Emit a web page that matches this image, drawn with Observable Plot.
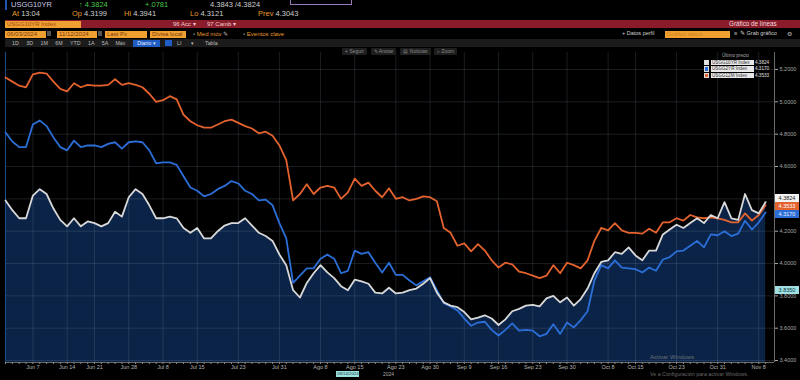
<!DOCTYPE html>
<html><head><meta charset="utf-8">
<script src="https://cdn.jsdelivr.net/npm/d3@7"></script>
<script src="https://cdn.jsdelivr.net/npm/@observablehq/plot@0.6"></script>
<style>
body{margin:0;background:#000;width:800px;height:380px;overflow:hidden;font-family:"Liberation Sans",Arial,sans-serif;position:relative}
.a{position:absolute;white-space:nowrap;line-height:1}
.r1{top:1px;font-size:7.5px}
.r2{top:10px;font-size:7.5px;color:#cfcfcf}
.o{color:#e69a2e}
.box{position:absolute;background:#f0a030;color:#7a3a10;font-size:6px;line-height:7px;height:7px;padding-left:2px;box-sizing:border-box}
.btn{position:absolute;top:48px;height:7px;background:#1e1e1e;color:#8a8a8a;font-size:5px;line-height:7px;text-align:center;border-radius:1px}
.tag{position:absolute;left:775px;width:24px;height:8px;font-size:5.5px;line-height:8px;text-align:center}
.lg{position:absolute;font-size:4.6px;line-height:5.5px;height:5.5px}
</style></head><body>
<!-- header row 1 -->
<div class="a" style="left:5px;top:0;width:2px;height:10px;background:#1f55b0"></div>
<div class="a r1" style="left:11px;color:#c8c8e6">USGG10YR</div>
<div class="a r1" style="left:79px;color:#4cc44c">↑ 4.3824</div>
<div class="a r1" style="left:145px;color:#4cc44c">+.0781</div>
<div class="a r1" style="left:210px;color:#cfcfcf">4.3843 /4.3824</div>
<div class="a" style="left:290px;top:-3px;width:60px;height:6px;border:1px solid #9a7ab8"></div>
<!-- header row 2 -->
<div class="a r2" style="left:12px"><span class="o">At</span> 13:04</div>
<div class="a r2" style="left:72px"><span class="o">Op</span> 4.3199</div>
<div class="a r2" style="left:124px"><span class="o">Hi</span> 4.3941</div>
<div class="a r2" style="left:190px"><span class="o">Lo</span> 4.3121</div>
<div class="a r2" style="left:258px"><span class="o">Prev</span> 4.3043</div>
<!-- red bar -->
<div class="a" style="left:5px;top:20px;width:795px;height:8px;background:#8a1b2b"></div>
<div class="box" style="left:5px;top:20.5px;width:76px;color:#a54a18">USGG10YR Index</div>
<div class="a" style="left:173px;top:21px;font-size:6px;color:#f0d0d0">96 Acc ▾</div>
<div class="a" style="left:207px;top:21px;font-size:6px;color:#f0d0d0">97 Camb ▾</div>
<div class="a" style="left:729px;top:21px;font-size:6.3px;color:#f4dede">Gráfico de líneas</div>
<!-- row 4 -->
<div class="box" style="left:5px;top:30.5px;width:41px">06/03/2024</div>
<div class="a" style="left:47px;top:31px;width:4px;height:5px;background:#555"></div>
<div class="box" style="left:57px;top:30.5px;width:40px">11/12/2024</div>
<div class="a" style="left:98px;top:31px;width:4px;height:5px;background:#555"></div>
<div class="box" style="left:105px;top:30.5px;width:42px">Last Px</div>
<div class="box" style="left:150px;top:30.5px;width:36px">Divisa local</div>
<div class="a" style="left:193px;top:31px;font-size:6px;color:#e69a2e"><span style="color:#777">▪</span> Med móv <span style="color:#bbb">✎</span></div>
<div class="a" style="left:243px;top:31px;font-size:6px;color:#e69a2e"><span style="color:#777">▪</span> Eventos clave</div>
<div class="a" style="left:622px;top:31px;font-size:5.5px;color:#cfcfcf">+ Datos perfil</div>
<div class="box" style="left:665px;top:30.5px;width:65px;color:#d08020">Gráfico datos</div>
<div class="a" style="left:734px;top:31px;font-size:5.5px;color:#bbb">≡</div>
<div class="a" style="left:740px;top:31px;font-size:5.5px;color:#cfcfcf">✎ Grab gráfico</div>
<div class="a" style="left:787px;top:31px;font-size:6px;color:#bbb">⚙</div>
<!-- row 5 -->
<div class="a" style="left:5px;top:39px;width:795px;height:8px;background:#1b1b1b"></div>
<div class="a" style="left:12px;top:40.5px;font-size:5.3px;color:#bdbdbd;word-spacing:6px">1D 3D 1M 6M YTD 1A 5A Máx</div>
<div class="a" style="left:133px;top:39.5px;width:27px;height:7px;background:#1f5cc4;color:#e6eeff;font-size:5.3px;line-height:7px;text-align:center">Diario ▾</div>
<div class="a" style="left:165px;top:40px;width:7px;height:6px;background:#1f5cc4"></div>
<div class="a" style="left:177px;top:40.5px;font-size:5.3px;color:#bdbdbd">LI</div>
<div class="a" style="left:191px;top:40.5px;font-size:5.3px;color:#bdbdbd">▾</div>
<div class="a" style="left:205px;top:40.5px;font-size:5.3px;color:#bdbdbd">Tabla</div>

<div id="chart" style="position:absolute;left:0;top:47px"></div>

<div class="btn" style="left:342px;width:25px">⌖ Seguir</div>
<div class="btn" style="left:371px;width:25px">✎ Anotar</div>
<div class="btn" style="left:400px;width:31px">▤ Noticias</div>
<div class="btn" style="left:434px;width:23px">⌕ Zoom</div>

<div id="legend"></div>
<div id="tags"></div>

<div class="a" style="left:383px;top:372px;font-size:5px;color:#a8a8a8">2024</div>
<div class="a" style="left:650px;top:354px;font-size:6px;color:#8a8a8a;opacity:.75">Activar Windows</div>
<div class="a" style="left:650px;top:372px;font-size:5.3px;color:#8a8a8a;opacity:.75">Ve a Configuración para activar Windows.</div>

<script>
const N = 112; // trading days Jun 3 – Nov 12, 2024
const tickIdx = [4,9,13,18,23,28,34,40,46,51,57,62,67,72,77,82,88,92,98,104,110];
const tickLabels = ["Jun 7","Jun 14","Jun 21","Jun 28","Jul 8","Jul 15","Jul 23","Jul 31","Ago 8","Ago 15","Ago 23","Ago 30","Sep 9","Sep 16","Sep 23","Sep 30","Oct 8","Oct 15","Oct 23","Oct 31","Nov 8"];
const yTicks = [3.4,3.6,3.8,4.0,4.2,4.4,4.6,4.8,5.0,5.2];
const seriesNames = ["USGG10YR Index","USGG2YR Index","USGG12M Index"];
const seriesColors = ["#e4e4e4","#2b6ed8","#e3622e"];
const lastValues = [4.3824, 4.3170, 4.3533];

const us10y = [4.39,4.33,4.28,4.28,4.42,4.46,4.43,4.34,4.27,4.23,
4.28,4.23,4.26,4.25,4.23,4.25,4.32,4.29,4.41,4.46,
4.43,4.36,4.28,4.28,4.29,4.28,4.22,4.19,4.22,4.155,
4.155,4.20,4.235,4.25,4.25,4.28,4.235,4.19,4.17,4.14,
4.056,3.99,3.835,3.79,3.88,3.94,3.99,3.945,3.91,3.86,
3.835,3.90,3.89,3.875,3.82,3.815,3.85,3.815,3.82,3.835,
3.845,3.875,3.91,3.82,3.76,3.74,3.73,3.70,3.655,3.665,
3.68,3.66,3.62,3.655,3.705,3.72,3.74,3.745,3.735,3.785,
3.80,3.76,3.79,3.74,3.78,3.845,3.94,4.01,4.02,4.07,
4.06,4.10,4.05,4.02,4.08,4.08,4.18,4.21,4.24,4.22,
4.25,4.28,4.25,4.30,4.28,4.38,4.28,4.27,4.43,4.33,
4.31,4.38];
const us2y = [4.81,4.755,4.72,4.72,4.86,4.885,4.85,4.78,4.72,4.70,
4.76,4.72,4.73,4.73,4.72,4.74,4.75,4.71,4.75,4.755,
4.75,4.70,4.62,4.625,4.625,4.61,4.54,4.47,4.45,4.415,
4.43,4.46,4.48,4.51,4.495,4.45,4.43,4.39,4.395,4.36,
4.25,4.155,3.88,3.925,3.97,3.97,4.03,4.055,4.03,3.94,
3.955,4.08,4.06,4.07,4.005,3.945,4.005,3.93,3.93,3.895,
3.865,3.89,3.915,3.835,3.755,3.735,3.71,3.66,3.615,3.635,
3.64,3.59,3.555,3.59,3.63,3.585,3.59,3.585,3.55,3.565,
3.625,3.565,3.635,3.605,3.65,3.705,3.895,3.99,3.97,4.02,
3.975,3.97,3.965,3.945,3.975,3.955,4.025,4.04,4.075,4.08,
4.11,4.14,4.10,4.18,4.175,4.20,4.17,4.185,4.265,4.21,
4.255,4.315];
const us1y = [5.15,5.125,5.10,5.09,5.17,5.18,5.175,5.125,5.08,5.065,
5.115,5.09,5.105,5.10,5.10,5.105,5.14,5.105,5.115,5.105,
5.09,5.05,5.00,5.01,5.035,5.015,4.92,4.88,4.855,4.84,
4.84,4.86,4.88,4.89,4.87,4.85,4.835,4.805,4.815,4.79,
4.73,4.64,4.39,4.43,4.49,4.43,4.47,4.48,4.47,4.40,
4.44,4.525,4.48,4.50,4.45,4.41,4.465,4.40,4.41,4.39,
4.40,4.415,4.41,4.385,4.22,4.19,4.11,4.125,4.075,4.12,
4.08,4.02,3.975,4.005,3.995,3.95,3.94,3.925,3.91,3.925,
3.99,3.94,4.005,3.99,3.97,4.02,4.14,4.22,4.205,4.25,
4.205,4.19,4.19,4.185,4.215,4.19,4.255,4.255,4.28,4.265,
4.30,4.285,4.28,4.285,4.28,4.27,4.255,4.255,4.31,4.265,
4.30,4.36];

const crossIdx = 50;
const crossDate = "08/14/2024";

const yBase = 3.388, xMax = 112.3;
const data = us10y.map((w, i) => ({i, w, b: us2y[i], o: us1y[i]}));
const lbl = new Map(tickIdx.map((d, k) => [d, tickLabels[k]]));

const chart = Plot.plot({
  width: 800, height: 333,
  marginLeft: 5, marginRight: 26, marginTop: 5, marginBottom: 18,
  style: {background: "#000", color: "#aaa", fontFamily: "Liberation Sans, Arial, sans-serif", overflow: "visible"},
  x: {domain: [0, xMax]},
  y: {domain: [yBase, 5.305]},
  marks: [
    Plot.areaY(data, {x: "i", y1: () => yBase, y2: "w", fill: "#0b2346"}),
    Plot.ruleY(yTicks, {stroke: "#9aaabe", strokeOpacity: 0.17}),
    Plot.ruleX(tickIdx, {stroke: "#9aaabe", strokeOpacity: 0.17}),
    Plot.ruleX([0], {stroke: "#1e4d8c"}),
    Plot.lineY(data, {x: "i", y: "o", stroke: seriesColors[2], strokeWidth: 1.8}),
    Plot.lineY(data, {x: "i", y: "b", stroke: seriesColors[1], strokeWidth: 1.8}),
    Plot.lineY(data, {x: "i", y: "w", stroke: "#d8d8d8", strokeWidth: 1.8}),
    Plot.ruleX([xMax], {stroke: "#6a6a6a"}),
    Plot.ruleY([yBase], {stroke: "#6a6a6a"}),
    Plot.axisY({anchor: "right", ticks: yTicks, tickFormat: d3.format(".4f"), tickSize: 3, tickPadding: 2, fontSize: 5.5, color: "#a8a8a8", label: null}),
    Plot.axisX({ticks: d3.range(N), tickSize: 2, tickFormat: () => "", color: "#8a8a8a", label: null}),
    Plot.axisX({ticks: tickIdx, tickSize: 0, tickPadding: 3, tickFormat: d => lbl.get(d), fontSize: 5.5, color: "#b4b4b4", label: null})
  ]
});
document.getElementById("chart").append(chart);

const ys = chart.scale("y"), xs = chart.scale("x");
const top0 = 47;
const tags = document.getElementById("tags");
function tag(cy, bg, fg, txt) {
  const d = document.createElement("div");
  d.className = "tag";
  d.style.top = (top0 + cy - 4) + "px";
  d.style.background = bg; d.style.color = fg;
  d.textContent = txt;
  tags.append(d);
}
tag(ys.apply(us10y[crossIdx]), "#9fe0e2", "#0b3a40", d3.format(".4f")(us10y[crossIdx]));
// last-value tags, stacked so they do not collide (orange kept at its value)
const yO = ys.apply(lastValues[2]);
const yW = Math.min(ys.apply(lastValues[0]), yO - 8);
const yB = Math.max(ys.apply(lastValues[1]), yO + 8.5);
tag(yW, "#f2f2f2", "#222", lastValues[0].toFixed(4));
tag(yB, "#2b6ed8", "#eef", lastValues[1].toFixed(4));
tag(yO, "#e3622e", "#fff", lastValues[2].toFixed(4));

const cd = document.createElement("div");
cd.className = "a";
cd.style.cssText = `left:${xs.apply(crossIdx) - 11}px;top:371px;width:23px;height:6px;background:#9fe0e2;color:#0b3a40;font-size:4.3px;line-height:6px;text-align:center`;
cd.textContent = crossDate;
document.body.append(cd);

// legend
const lg = document.getElementById("legend");
lg.innerHTML = `<div class="lg" style="left:722px;top:53px;color:#aaa">Último precio</div>`;
seriesNames.forEach((n, k) => {
  const y = 59.5 + k * 6.5;
  lg.innerHTML += `<div class="lg" style="left:704px;top:${y}px;width:5px;background:${seriesColors[k]};border:0.5px solid #ddd;box-sizing:border-box"></div>
  <div class="lg" style="left:711px;top:${y}px;width:42px;background:#e8e8e8;color:#333;padding-left:1px">${n}</div>
  <div class="lg" style="left:755px;top:${y}px;color:#e0e0e0">${lastValues[k].toFixed(4)}</div>`;
});
</script>
</body></html>
